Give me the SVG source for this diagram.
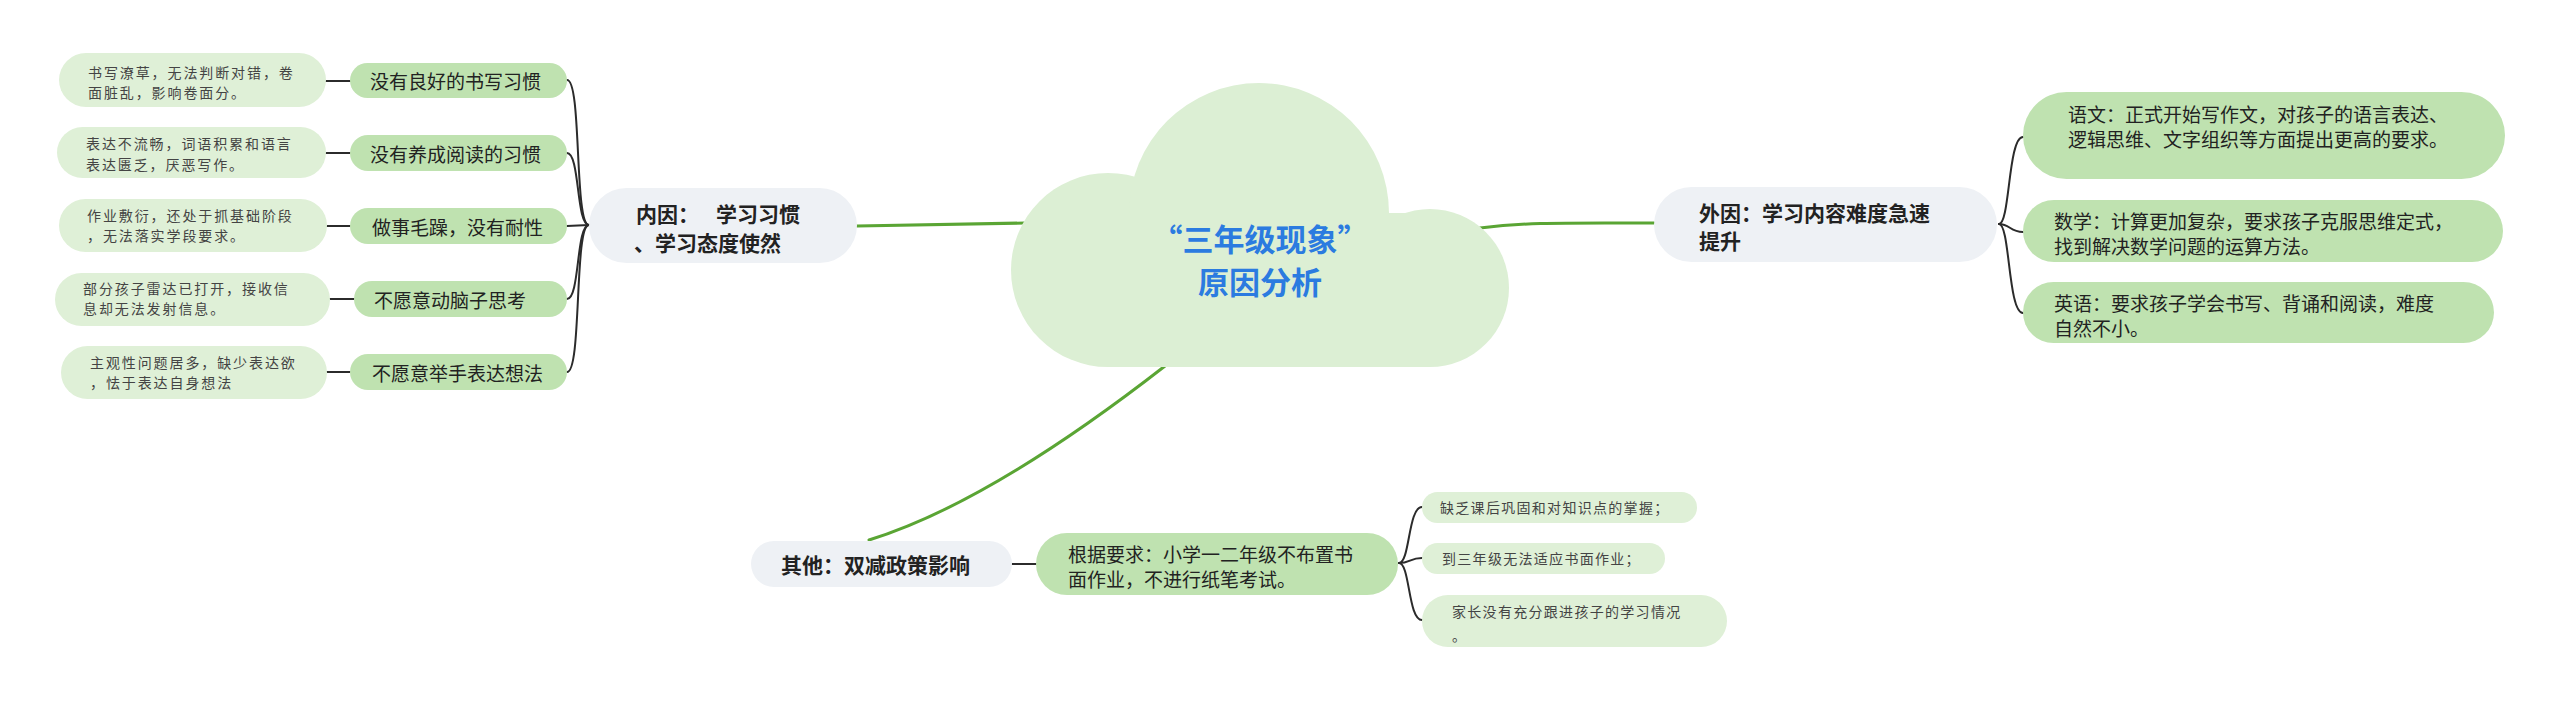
<svg xmlns="http://www.w3.org/2000/svg" width="2560" height="701" viewBox="0 0 2560 701">
<style>
.bg{fill:#ffffff}
.cloud{fill:#dcefd4}
.sub{fill:#bfe2b0}
.leaf{fill:#dff0d7}
.main{fill:#eef1f5}
.gl{fill:none;stroke:#5aa534;stroke-width:3;stroke-linecap:round}
.bl{fill:none;stroke:#2b2b2b;stroke-width:2;stroke-linecap:round}
text{font-family:"Noto Sans CJK SC","Noto Sans",sans-serif;dominant-baseline:central;fill:#222}
.b{font-weight:bold;font-size:21px}
.n{font-size:19px}
.hw{font-size:14px;letter-spacing:1.9px;fill:#444}
.hw2{font-size:14px;letter-spacing:1.3px;fill:#444}
.title{font-weight:bold;font-size:31px;fill:#2b7be0}
</style>
<rect class="bg" x="0" y="0" width="2560" height="701"/>
<g id="connectors">
  <path class="gl" d="M857,226 L1025,223"/>
  <path class="gl" d="M1480,228 C1530,222 1560,223 1654,223"/>
  <path class="gl" d="M1165,366 Q989,503 869,540"/>
  <path class="bl" d="M326,81 L350,81"/>
  <path class="bl" d="M326,153 L350,153"/>
  <path class="bl" d="M327,226 L350,226"/>
  <path class="bl" d="M330,299 L354,299"/>
  <path class="bl" d="M327,372 L350,372"/>
  <path class="bl" d="M567,80 C582,80 574,225 589,225"/>
  <path class="bl" d="M567,153 C580,153 576,225 589,225"/>
  <path class="bl" d="M567,226 L589,225"/>
  <path class="bl" d="M567,299 C580,299 576,225 589,225"/>
  <path class="bl" d="M567,372 C582,372 574,225 589,225"/>
  <path class="bl" d="M1999,224 C2010,224 2008,137 2023,137"/>
  <path class="bl" d="M1999,224 C2010,224 2010,232 2023,232"/>
  <path class="bl" d="M1999,224 C2010,224 2008,313 2023,313"/>
  <path class="bl" d="M1012,564 L1036,564"/>
  <path class="bl" d="M1399,563 C1410,563 1408,507 1422,507"/>
  <path class="bl" d="M1399,563 C1410,563 1410,558 1422,558"/>
  <path class="bl" d="M1399,563 C1410,563 1408,620 1422,620"/>
</g>
<g id="center">
  <circle class="cloud" cx="1108" cy="270" r="97"/>
  <circle class="cloud" cx="1259" cy="213" r="130"/>
  <circle class="cloud" cx="1430" cy="288" r="79"/>
  <rect class="cloud" x="1108" y="213" width="322" height="154"/>
  <text class="title" x="1260" y="237" text-anchor="middle">“三年级现象”</text>
  <text class="title" x="1260" y="280" text-anchor="middle">原因分析</text>
</g>
<g id="neiyin">
  <rect class="main" x="589" y="188" width="268" height="75" rx="37.5"/>
  <text class="b" x="636" y="213">内因：</text>
  <text class="b" x="716" y="213">学习习惯</text>
  <text class="b" x="634" y="242">、学习态度使然</text>
</g>
<g id="sub1"><rect class="sub" x="350" y="63" width="217" height="35" rx="17.5"/><text class="n" x="370" y="80">没有良好的书写习惯</text></g>
<g id="sub2"><rect class="sub" x="350" y="135" width="217" height="36" rx="18"/><text class="n" x="370" y="153">没有养成阅读的习惯</text></g>
<g id="sub3"><rect class="sub" x="350" y="208" width="217" height="36" rx="18"/><text class="n" x="372" y="226">做事毛躁，没有耐性</text></g>
<g id="sub4"><rect class="sub" x="354" y="281" width="213" height="36" rx="18"/><text class="n" x="374" y="299">不愿意动脑子思考</text></g>
<g id="sub5"><rect class="sub" x="350" y="354" width="217" height="36" rx="18"/><text class="n" x="372" y="372">不愿意举手表达想法</text></g>
<g id="leaf1"><rect class="leaf" x="59" y="53" width="267" height="54" rx="27"/><text class="hw" x="88" y="72">书写潦草，无法判断对错，卷</text><text class="hw" x="88" y="92">面脏乱，影响卷面分。</text></g>
<g id="leaf2"><rect class="leaf" x="57" y="127" width="269" height="51" rx="25.5"/><text class="hw" x="86" y="143">表达不流畅，词语积累和语言</text><text class="hw" x="86" y="164">表达匮乏，厌恶写作。</text></g>
<g id="leaf3"><rect class="leaf" x="59" y="199" width="268" height="53" rx="26.5"/><text class="hw" x="87" y="215">作业敷衍，还处于抓基础阶段</text><text class="hw" x="87" y="235">，无法落实学段要求。</text></g>
<g id="leaf4"><rect class="leaf" x="55" y="273" width="275" height="53" rx="26.5"/><text class="hw" x="83" y="288">部分孩子雷达已打开，接收信</text><text class="hw" x="83" y="308">息却无法发射信息。</text></g>
<g id="leaf5"><rect class="leaf" x="61" y="346" width="266" height="53" rx="26.5"/><text class="hw" x="90" y="362">主观性问题居多，缺少表达欲</text><text class="hw" x="90" y="382">，怯于表达自身想法</text></g>
<g id="waiyin">
  <rect class="main" x="1654" y="187" width="343" height="75" rx="37.5"/>
  <text class="b" x="1699" y="212">外因：学习内容难度急速</text>
  <text class="b" x="1699" y="240">提升</text>
</g>
<g id="r1"><rect class="sub" x="2023" y="92" width="482" height="87" rx="43.5"/><text class="n" x="2068" y="113">语文：正式开始写作文，对孩子的语言表达、</text><text class="n" x="2068" y="138">逻辑思维、文字组织等方面提出更高的要求。</text></g>
<g id="r2"><rect class="sub" x="2023" y="200" width="480" height="62" rx="31"/><text class="n" x="2054" y="220">数学：计算更加复杂，要求孩子克服思维定式，</text><text class="n" x="2054" y="245">找到解决数学问题的运算方法。</text></g>
<g id="r3"><rect class="sub" x="2023" y="282" width="471" height="61" rx="30.5"/><text class="n" x="2054" y="302">英语：要求孩子学会书写、背诵和阅读，难度</text><text class="n" x="2054" y="327">自然不小。</text></g>
<g id="qita">
  <rect class="main" x="751" y="541" width="261" height="46" rx="23"/>
  <text class="b" x="781" y="564">其他：双减政策影响</text>
</g>
<g id="genju"><rect class="sub" x="1036" y="533" width="362" height="62" rx="31"/><text class="n" x="1068" y="553">根据要求：小学一二年级不布置书</text><text class="n" x="1068" y="578">面作业，不进行纸笔考试。</text></g>
<g id="b1"><rect class="leaf" x="1422" y="492" width="275" height="31" rx="15.5"/><text class="hw2" x="1440" y="507">缺乏课后巩固和对知识点的掌握；</text></g>
<g id="b2"><rect class="leaf" x="1422" y="543" width="243" height="31" rx="15.5"/><text class="hw2" x="1442" y="558">到三年级无法适应书面作业；</text></g>
<g id="b3"><rect class="leaf" x="1422" y="595" width="305" height="52" rx="26"/><text class="hw2" x="1452" y="611">家长没有充分跟进孩子的学习情况</text><text class="hw2" x="1452" y="635">。</text></g>
</svg>
